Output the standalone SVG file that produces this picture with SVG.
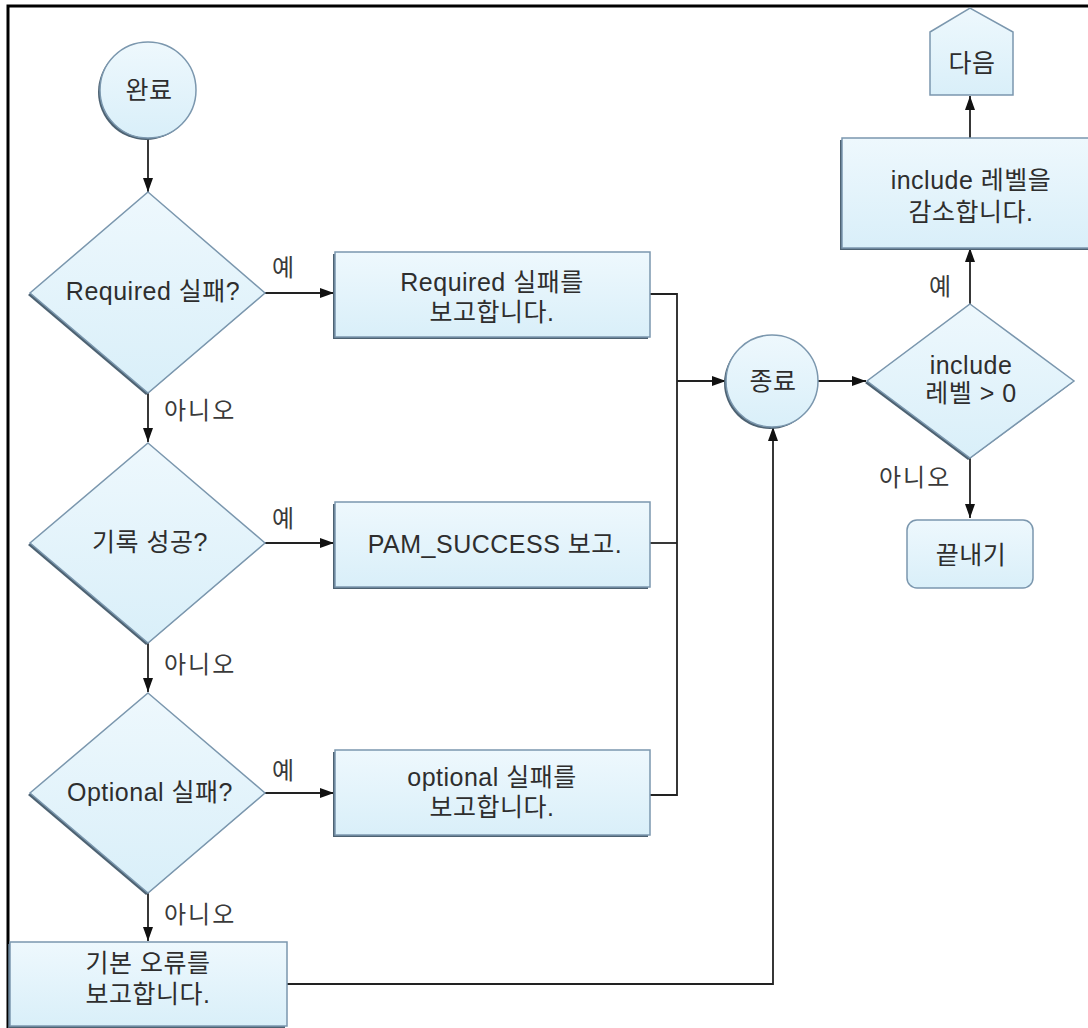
<svg xmlns="http://www.w3.org/2000/svg" width="1088" height="1028" viewBox="0 0 1088 1028">
<defs>
<linearGradient id="fillg" x1="0" y1="0" x2="0" y2="1">
<stop offset="0" stop-color="#eef8fd"/>
<stop offset="1" stop-color="#d9eff9"/>
</linearGradient>
<marker id="ah" viewBox="0 0 14 10" refX="14" refY="5" markerWidth="14" markerHeight="10" markerUnits="userSpaceOnUse" orient="auto">
<path d="M0,0 L14,5 L0,10 Z" fill="#111"/>
</marker>
</defs>
<style>
.shape{fill:url(#fillg);stroke:#7b97ae;stroke-width:1.5}
.shadow{fill:#4d6272;stroke:none}
.t{font-family:"Liberation Sans","Noto Sans CJK KR",sans-serif;font-size:25px;letter-spacing:0.5px;fill:#2e2e2e;text-anchor:middle}
.lbl{font-family:"Liberation Sans","Noto Sans CJK KR",sans-serif;font-size:24px;letter-spacing:2px;fill:#3a3a3a}
.c{fill:none;stroke:#222;stroke-width:1.8}
</style>
<rect x="0" y="0" width="1088" height="1028" fill="#fff"/>
<path d="M8,1028 V6 H1088" fill="none" stroke="#000" stroke-width="3"/>

<g id="connectors">
<line class="c" x1="148" y1="137" x2="148" y2="192" marker-end="url(#ah)"/>
<line class="c" x1="265" y1="293" x2="334" y2="293" marker-end="url(#ah)"/>
<line class="c" x1="148" y1="393" x2="148" y2="442" marker-end="url(#ah)"/>
<line class="c" x1="265" y1="543" x2="334" y2="543" marker-end="url(#ah)"/>
<line class="c" x1="148" y1="643" x2="148" y2="692" marker-end="url(#ah)"/>
<line class="c" x1="265" y1="793" x2="334" y2="793" marker-end="url(#ah)"/>
<line class="c" x1="148" y1="893" x2="148" y2="941" marker-end="url(#ah)"/>
<path class="c" d="M650,294 H677 V795 H650"/>
<line class="c" x1="650" y1="543" x2="677" y2="543"/>
<line class="c" x1="677" y1="381" x2="726" y2="381" marker-end="url(#ah)"/>
<path class="c" d="M287,984 H773 V427" marker-end="url(#ah)"/>
<line class="c" x1="818" y1="381" x2="866" y2="381" marker-end="url(#ah)"/>
<line class="c" x1="970" y1="304" x2="970" y2="248" marker-end="url(#ah)"/>
<line class="c" x1="970" y1="138" x2="970" y2="96" marker-end="url(#ah)"/>
<line class="c" x1="970" y1="458" x2="970" y2="518" marker-end="url(#ah)"/>
<text class="lbl" x="272" y="276">예</text>
<text class="lbl" x="164" y="419">아니오</text>
<text class="lbl" x="272" y="527">예</text>
<text class="lbl" x="164" y="673">아니오</text>
<text class="lbl" x="272" y="779">예</text>
<text class="lbl" x="164" y="923">아니오</text>
<text class="lbl" x="929" y="295">예</text>
<text class="lbl" x="879" y="486">아니오</text>
</g>

<g id="n-start">
<circle class="shadow" cx="146" cy="92" r="48"/>
<circle class="shape" cx="148" cy="90" r="48"/>
<text class="t" x="149" y="99">완료</text>
</g>

<g id="n-req-dec">
<polygon class="shadow" points="146,194 263,295 146,395 28,295"/>
<polygon class="shape" points="148,192 265,293 148,393 30,293"/>
<text class="t" x="153" y="300">Required 실패?</text>
</g>

<g id="n-req-box">
<rect class="shadow" x="333" y="254" width="315" height="85"/>
<rect class="shape" x="335" y="252" width="315" height="85"/>
<text class="t" x="492" y="291">Required 실패를</text>
<text class="t" x="492" y="321">보고합니다.</text>
</g>

<g id="n-rec-dec">
<polygon class="shadow" points="146,445 263,545 146,645 28,545"/>
<polygon class="shape" points="148,443 265,543 148,643 30,543"/>
<text class="t" x="150" y="551">기록 성공?</text>
</g>

<g id="n-pam-box">
<rect class="shadow" x="333" y="504" width="315" height="85"/>
<rect class="shape" x="335" y="502" width="315" height="85"/>
<text class="t" x="495" y="553">PAM_SUCCESS 보고.</text>
</g>

<g id="n-opt-dec">
<polygon class="shadow" points="146,695 263,795 146,895 28,795"/>
<polygon class="shape" points="148,693 265,793 148,893 30,793"/>
<text class="t" x="150" y="801">Optional 실패?</text>
</g>

<g id="n-opt-box">
<rect class="shadow" x="333" y="752" width="315" height="85"/>
<rect class="shape" x="335" y="750" width="315" height="85"/>
<text class="t" x="492" y="786">optional 실패를</text>
<text class="t" x="492" y="816">보고합니다.</text>
</g>

<g id="n-def-box">
<rect class="shadow" x="8" y="944" width="277" height="84"/>
<rect class="shape" x="10" y="942" width="277" height="84"/>
<text class="t" x="148" y="972">기본 오류를</text>
<text class="t" x="148" y="1003">보고합니다.</text>
</g>

<g id="n-end">
<circle class="shadow" cx="770" cy="383" r="46"/>
<circle class="shape" cx="772" cy="381" r="46"/>
<text class="t" x="773" y="390">종료</text>
</g>

<g id="n-inc-dec">
<polygon class="shadow" points="968,306 1072,383 968,460 865,383"/>
<polygon class="shape" points="970,304 1074,381 970,458 867,381"/>
<text class="t" x="971" y="374">include</text>
<text class="t" x="971" y="402">레벨 &gt; 0</text>
</g>

<g id="n-dec-box">
<rect class="shadow" x="840" y="140" width="256" height="110"/>
<rect class="shape" x="842" y="138" width="256" height="110"/>
<text class="t" x="971" y="189">include 레벨을</text>
<text class="t" x="971" y="221">감소합니다.</text>
</g>

<g id="n-next">
<polygon class="shape" points="930,32 970,8 1013,32 1013,95 930,95"/>
<text class="t" x="972" y="72">다음</text>
</g>

<g id="n-exit">
<rect class="shape" x="907" y="520" width="126" height="68" rx="10" ry="10"/>
<text class="t" x="971" y="564">끝내기</text>
</g>
</svg>
